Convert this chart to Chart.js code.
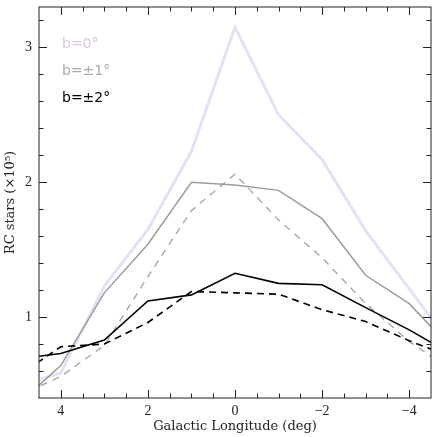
<!DOCTYPE html>
<html lang="en">
<head>
  <meta charset="UTF-8">
  <title>RC stars vs Galactic longitude</title>
  <script src="https://cdn.jsdelivr.net/npm/chart.js@4.4.0/dist/chart.umd.min.js"></script>
  <style>
    html, body { margin: 0; padding: 0; background: #fff; }
  </style>
</head>
<body>
<canvas id="chart" width="436" height="437"></canvas>

<script>
// longitude of each field (deg); the +-5 points sit just outside the frame
const longitude = [5, 4, 3, 2, 1, 0, -1, -2, -3, -4, -5];

// RC star counts (x10^5)
const b0       = [0.49, 0.585, 1.23, 1.65, 2.23, 3.15, 2.50, 2.17, 1.64, 1.21, 0.78];
const b1       = [0.35, 0.64, 1.18, 1.54, 2.00, 1.98, 1.94, 1.73, 1.31, 1.10, 0.76];
const b1dashed = [0.41, 0.56, 0.79, 1.30, 1.79, 2.06, 1.72, 1.44, 1.10, 0.82, 0.60];
const b2       = [0.69, 0.73, 0.83, 1.12, 1.165, 1.325, 1.25, 1.24, 1.07, 0.905, 0.72];
const b2dashed = [0.56, 0.78, 0.80, 0.96, 1.19, 1.18, 1.17, 1.055, 0.967, 0.825, 0.70];

const xTicks = [4, 2, 0, -2, -4];
const yTicks = [1, 2, 3];

const legendLabels = ['b=0°', 'b=±1°', 'b=±2°'];
const legendColors = ['#d9c5e0', '#a8a8a8', '#000000'];

function points(values) {
  return values.map((v, i) => ({ x: longitude[i], y: v }));
}

// frame with inward ticks on all four sides, plus the text legend
const framePlugin = {
  id: 'frame',
  afterDraw(chart) {
    const { ctx, chartArea: a, scales: { x, y } } = chart;
    ctx.save();
    ctx.strokeStyle = '#222';
    ctx.lineWidth = 1;
    ctx.strokeRect(a.left, a.top, a.right - a.left, a.bottom - a.top);

    ctx.beginPath();
    for (let i = -8; i <= 8; i++) {
      const v = i / 2;
      const px = Math.round(x.getPixelForValue(v)) + 0.5;
      const len = xTicks.includes(v) ? 8 : 4.5;
      ctx.moveTo(px, a.bottom); ctx.lineTo(px, a.bottom - len);
      ctx.moveTo(px, a.top); ctx.lineTo(px, a.top + len);
    }
    for (let i = 3; i <= 16; i++) {
      const v = i / 5;
      const py = Math.round(y.getPixelForValue(v)) + 0.5;
      const len = i % 5 === 0 ? 8 : 4.5;
      ctx.moveTo(a.left, py); ctx.lineTo(a.left + len, py);
      ctx.moveTo(a.right, py); ctx.lineTo(a.right - len, py);
    }
    ctx.stroke();

    ctx.font = '14px "DejaVu Sans"';
    ctx.textBaseline = 'alphabetic';
    legendLabels.forEach((t, i) => {
      ctx.fillStyle = legendColors[i];
      ctx.fillText(t, a.left + 23, a.top + 41 + i * 27);
    });
    ctx.restore();
  }
};

const ctx = document.getElementById('chart').getContext('2d');
const chart = new Chart(ctx, {
  type: 'line',
  data: {
    datasets: [
      { data: points(b2), borderColor: '#000', borderWidth: 1.6 },
      { data: points(b2dashed), borderColor: '#000', borderWidth: 1.6, borderDash: [7, 5] },
      { data: points(b1), borderColor: '#9c9c9c', borderWidth: 1.5 },
      { data: points(b1dashed), borderColor: '#a8a8a8', borderWidth: 1.4, borderDash: [7, 6] },
      { data: points(b0), borderColor: '#e2e2f7', borderWidth: 3 }
    ]
  },
  options: {
    responsive: false,
    animation: false,
    layout: { padding: { top: 7, right: 5, left: 0, bottom: 0 } },
    elements: { point: { radius: 0 }, line: { tension: 0 } },
    plugins: { legend: { display: false }, tooltip: { enabled: false } },
    scales: {
      x: {
        type: 'linear',
        min: -4.5,
        max: 4.5,
        reverse: true,
        afterBuildTicks: s => { s.ticks = xTicks.map(v => ({ value: v })); },
        afterFit: s => { s.height = 39; s.paddingLeft = 0; s.paddingRight = 0; },
        grid: { display: false, drawTicks: false },
        border: { display: false },
        ticks: {
          padding: 5,
          maxRotation: 0,
          color: '#222',
          font: { family: 'Liberation Serif', size: 14 },
          callback: v => (v < 0 ? '\u2212' + Math.abs(v) : String(v))
        },
        title: {
          display: true,
          text: 'Galactic Longitude (deg)',
          color: '#222',
          font: { family: 'DejaVu Serif', size: 13 },
          padding: { top: 0, bottom: 3 }
        }
      },
      y: {
        type: 'linear',
        min: 0.4,
        max: 3.3,
        afterBuildTicks: s => { s.ticks = yTicks.map(v => ({ value: v })); },
        afterFit: s => { s.width = 39; s.paddingTop = 0; s.paddingBottom = 0; },
        grid: { display: false, drawTicks: false },
        border: { display: false },
        ticks: {
          padding: 7,
          color: '#222',
          font: { family: 'Liberation Serif', size: 14 }
        },
        title: {
          display: true,
          text: 'RC stars (×10⁵)',
          color: '#222',
          font: { family: 'DejaVu Serif', size: 13 },
          padding: { top: 3, bottom: 0 }
        }
      }
    }
  },
  plugins: [framePlugin]
});
</script>
</body>
</html>
